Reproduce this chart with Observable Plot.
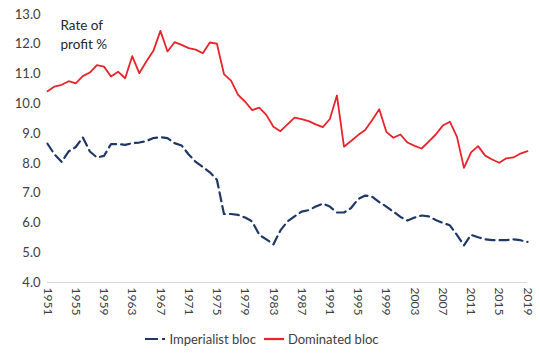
<!DOCTYPE html>
<html><head><meta charset="utf-8">
<script src="https://cdn.jsdelivr.net/npm/d3@7"></script>
<script src="https://cdn.jsdelivr.net/npm/@observablehq/plot@0.6"></script>
<style>
body{margin:0;background:#fff;font-family:Lato,"Open Sans",sans-serif;}
#chart{width:540px;}
#legend{display:flex;justify-content:center;align-items:center;gap:8px;font-size:13px;color:#404040;height:28px;padding-right:16px;box-sizing:border-box;width:540px;}
#legend .item{display:flex;align-items:center;gap:4px;}
</style></head><body>
<div id="chart"></div>
<div id="legend"></div>
<script>
const startYear = 1951;
const imperialist = [
  8.66, 8.30, 8.05, 8.40, 8.55, 8.87, 8.40, 8.20, 8.25, 8.65,
  8.65, 8.62, 8.68, 8.70, 8.75, 8.85, 8.88, 8.85, 8.68, 8.60,
  8.30, 8.05, 7.88, 7.70, 7.45, 6.30, 6.30, 6.27, 6.18, 6.05,
  5.60, 5.45, 5.28, 5.75, 6.05, 6.22, 6.38, 6.43, 6.55, 6.65,
  6.55, 6.35, 6.35, 6.50, 6.80, 6.92, 6.88, 6.70, 6.55, 6.38,
  6.20, 6.08, 6.18, 6.25, 6.22, 6.10, 6.00, 5.92, 5.60, 5.25,
  5.60, 5.52, 5.45, 5.42, 5.42, 5.42, 5.45, 5.42, 5.36
];
const dominated = [
  10.42, 10.58, 10.64, 10.76, 10.69, 10.93, 11.05, 11.30, 11.25, 10.92,
  11.08, 10.86, 11.60, 11.03, 11.42, 11.78, 12.45, 11.76, 12.07, 11.98,
  11.87, 11.82, 11.70, 12.06, 12.02, 11.00, 10.78, 10.30, 10.07, 9.79,
  9.87, 9.63, 9.23, 9.08, 9.31, 9.54, 9.49, 9.42, 9.31, 9.22,
  9.49, 10.28, 8.56, 8.75, 8.95, 9.12, 9.46, 9.82, 9.06, 8.86,
  8.97, 8.70, 8.59, 8.50, 8.73, 8.97, 9.27, 9.40, 8.90, 7.85,
  8.37, 8.58, 8.26, 8.13, 8.02, 8.17, 8.20, 8.33, 8.41
];
const xTicks = [1951,1955,1959,1963,1967,1971,1975,1979,1983,1987,1991,1995,1999,2003,2007,2011,2015,2019];
const yTicks = [4,5,6,7,8,9,10,11,12,13];
const seriesNames = ["Imperialist bloc", "Dominated bloc"];
const colors = ["#1f3864", "#e8232b"];
const axisTitle = "Rate of\nprofit %";

const impData = imperialist.map((v, i) => ({year: startYear + i, value: v}));
const domData = dominated.map((v, i) => ({year: startYear + i, value: v}));

const chart = Plot.plot({
  width: 540,
  height: 325,
  marginLeft: 47,
  marginRight: 13,
  marginTop: 14,
  marginBottom: 43,
  style: {fontFamily: "Lato, 'Open Sans', sans-serif", background: "#fff", color: "#404040"},
  x: {domain: [1951, 2019], ticks: xTicks, tickFormat: d => String(d)},
  y: {domain: [4, 13], ticks: yTicks, tickFormat: d3.format(".1f")},
  marks: [
    Plot.ruleY([4], {stroke: "#d9d9d9", strokeWidth: 1}),
    Plot.axisY({ticks: yTicks, tickFormat: d3.format(".1f"), tickSize: 0, tickPadding: 7, fontSize: 13, label: null, fill: "#404040"}),
    Plot.axisX({ticks: xTicks, tickFormat: d => String(d), tickSize: 0, tickPadding: 5, tickRotate: 90, fontSize: 12, label: null, fill: "#404040"}),
    Plot.line(impData, {x: "year", y: "value", stroke: colors[0], strokeWidth: 2.2, strokeDasharray: "9,5", strokeLinejoin: "round"}),
    Plot.line(domData, {x: "year", y: "value", stroke: colors[1], strokeWidth: 1.8, strokeLinejoin: "round"}),
    Plot.text([axisTitle], {frameAnchor: "top-left", dx: 13, dy: 2, lineAnchor: "top", textAnchor: "start", fontSize: 13.5, lineHeight: 1.4, fill: "#262626"})
  ]
});
document.getElementById("chart").append(chart);

const legend = document.getElementById("legend");
seriesNames.forEach((name, i) => {
  const item = document.createElement("div");
  item.className = "item";
  const dash = i === 0 ? 'stroke-dasharray="13,4"' : '';
  item.innerHTML = `<svg width="20" height="10"><line x1="0" y1="5" x2="20" y2="5" stroke="${colors[i]}" stroke-width="2.2" ${dash}/></svg><span>${name}</span>`;
  legend.append(item);
});
</script>
</body></html>
